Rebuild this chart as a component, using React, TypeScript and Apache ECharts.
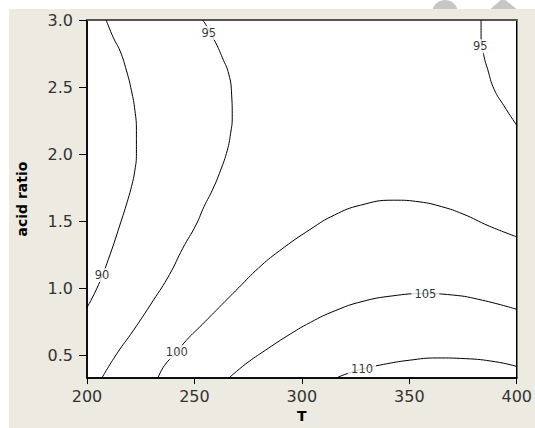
import React, { useEffect, useRef } from "react";
import * as echarts from "echarts";

// contour lines: [T, acid ratio]
const c90: number[][] = [
  [208.9, 3.0], [212.3, 2.867], [215.4, 2.769], [218.4, 2.621], [220.7, 2.473], [222.3, 2.326],
  [223.0, 2.178], [223.0, 2.005], [222.3, 1.882], [220.7, 1.759], [218.8, 1.65], [215.3, 1.473],
  [210.7, 1.252], [205.4, 1.03], [200, 0.858],
];
const c95a: number[][] = [
  [253.8, 3.0], [255.3, 2.965], [259.9, 2.83], [263.0, 2.719], [266.0, 2.596], [267.3, 2.448],
  [267.6, 2.276], [266.8, 2.153], [265.3, 2.03], [262.2, 1.882], [258.4, 1.735], [254.5, 1.611],
  [250.7, 1.473], [244.6, 1.301], [238.4, 1.104], [230.7, 0.908], [221.5, 0.686], [213.8, 0.513],
  [206.9, 0.333],
];
const c95b: number[][] = [
  [383.4, 3.0], [383.4, 2.877], [384.6, 2.742], [386.5, 2.631], [389.5, 2.483],
  [394.1, 2.36], [400, 2.215],
];
const c100: number[][] = [
  [233.0, 0.333], [236.1, 0.428], [241.8, 0.526], [246.1, 0.612], [253.8, 0.735], [261.4, 0.858],
  [270.6, 1.006], [279.9, 1.154], [289.5, 1.28], [304.3, 1.445], [315.1, 1.547], [327.3, 1.621],
  [342.7, 1.658], [355, 1.645], [365, 1.61], [375, 1.555], [387.2, 1.465], [400, 1.385],
];
const c105: number[][] = [
  [266, 0.333], [274, 0.44], [283, 0.54], [293, 0.645], [304, 0.748], [315.5, 0.835],
  [328, 0.903], [342, 0.945], [356.8, 0.962], [370, 0.952], [384, 0.913], [400, 0.845],
];
const c110: number[][] = [
  [316, 0.333], [320, 0.36], [328, 0.4], [338, 0.435], [350, 0.466], [363, 0.483],
  [376, 0.478], [390, 0.455], [400, 0.42],
];
const contours = [c90, c95a, c95b, c100, c105, c110];

// contour labels: [T, acid ratio, text]
const contourLabels: [number, number, string][] = [
  [207.0, 1.1, "90"],
  [256.7, 2.904, "95"],
  [383.0, 2.804, "95"],
  [241.8, 0.526, "100"],
  [357.5, 0.962, "105"],
  [328.0, 0.4, "110"],
];

const xTicks = [200, 250, 300, 350, 400];
const yTicks = [0.5, 1.0, 1.5, 2.0, 2.5, 3.0];
const yMin = 0.333;
const yMax = 3.0;

export default function App() {
  const ref = useRef<HTMLDivElement>(null);
  useEffect(() => {
    if (!ref.current) return;
    const chart = echarts.init(ref.current, null, { renderer: "svg" });
    const tickFont = { color: "#333", fontSize: 16, fontFamily: "DejaVu Sans" };
    const lineSeries = contours.map((c) => ({
      type: "line",
      data: c,
      showSymbol: false,
      smooth: 0.5,
      lineStyle: { color: "#000", width: 1 },
      z: 3,
    }));
    chart.setOption({
      animation: false,
      backgroundColor: "#fff",
      graphic: [
        { type: "circle", z: -30, shape: { cx: 445, cy: 13, r: 13 }, style: { fill: "#c6c6c6" } },
        { type: "polygon", z: -30, shape: { points: [[487, 12], [520, 12], [503, -2]] }, style: { fill: "#c6c6c6" } },
        { type: "rect", z: -20, shape: { x: 9, y: 9, width: 526, height: 419 }, style: { fill: "#EDEAE1" } },
      ],
      grid: {
        left: 87,
        top: 20,
        right: 14,
        bottom: 47,
        show: true,
        backgroundColor: "#fff",
        borderColor: "#000",
        borderWidth: 1.5,
      },
      xAxis: [
        {
          type: "value",
          min: xTicks[0],
          max: xTicks[xTicks.length - 1],
          interval: 50,
          name: "T",
          nameLocation: "middle",
          nameGap: 30,
          nameTextStyle: { fontSize: 14, fontWeight: "bold", color: "#000", fontFamily: "DejaVu Sans" },
          axisLine: { show: true, lineStyle: { color: "#000", width: 1.5 } },
          axisTick: { show: true, length: 6, lineStyle: { color: "#000" } },
          axisLabel: { ...tickFont, margin: 10 },
          splitLine: { show: false },
        },
        {
          type: "value",
          position: "top",
          min: xTicks[0],
          max: xTicks[xTicks.length - 1],
          axisLine: { show: true, lineStyle: { color: "#555", width: 2 } },
          axisTick: { show: false },
          axisLabel: { show: false },
          splitLine: { show: false },
        },
      ],
      yAxis: {
        type: "value",
        min: yMin,
        max: yMax,
        name: "acid ratio",
        nameLocation: "middle",
        nameGap: 58,
        nameTextStyle: { fontSize: 14, fontWeight: "bold", color: "#000", fontFamily: "DejaVu Sans" },
        axisLine: { show: true, lineStyle: { color: "#000", width: 1.5 } },
        axisTick: { show: true, length: 8, customValues: yTicks, lineStyle: { color: "#000" } },
        axisLabel: {
          ...tickFont,
          margin: 14,
          customValues: yTicks,
          formatter: (v: number) => v.toFixed(1),
        },
        splitLine: { show: false },
      },
      series: [
        ...lineSeries,
        {
          type: "scatter",
          data: contourLabels.map((l) => [l[0], l[1], l[2]]),
          symbolSize: 1,
          itemStyle: { color: "transparent" },
          z: 5,
          label: {
            show: true,
            position: "inside",
            formatter: (p: any) => p.value[2],
            fontSize: 11.5,
            fontFamily: "DejaVu Sans",
            color: "#000",
            backgroundColor: "#fff",
            padding: [1, 3],
          },
        },
      ],
    });
    return () => chart.dispose();
  }, []);
  return (
    <div
      ref={ref}
      style={{ position: "fixed", left: 0, top: 0, width: 535, height: 428 }}
    />
  );
}
